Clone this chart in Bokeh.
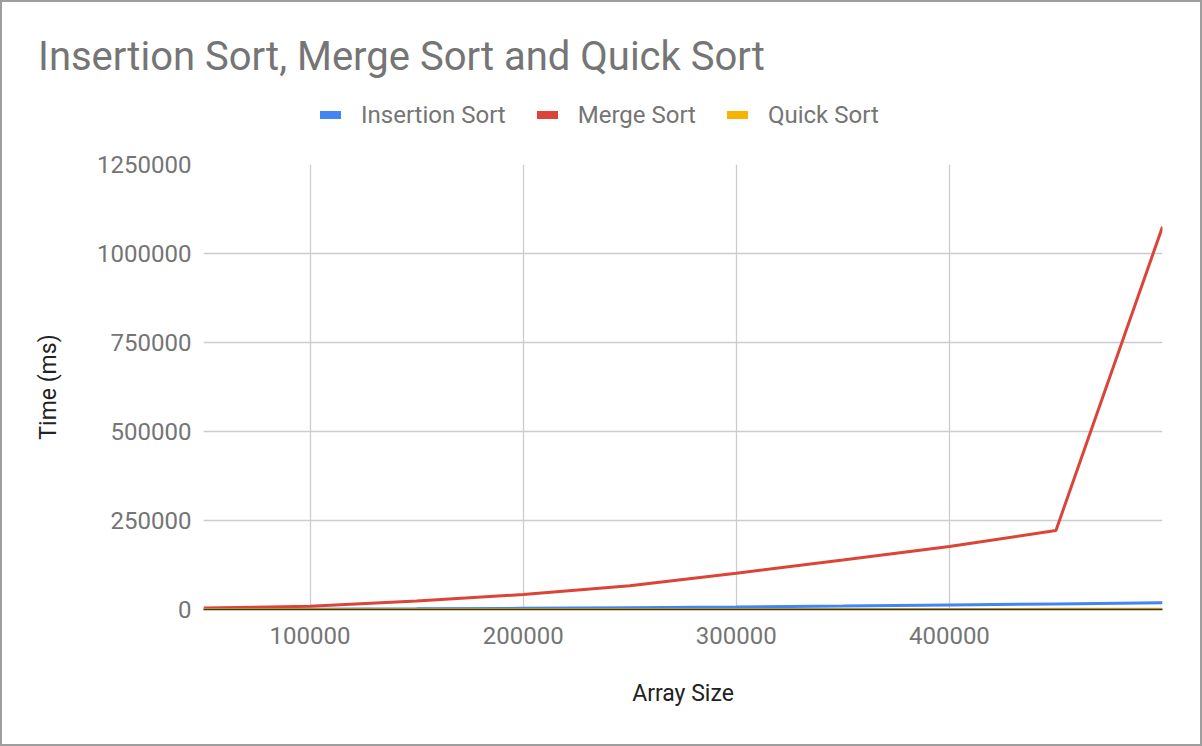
from bokeh.plotting import figure
from bokeh.layouts import column
from bokeh.models import FixedTicker, BasicTickFormatter, Range1d, Div
from bokeh.embed import file_html
from bokeh.resources import INLINE

# ---- data ----
array_sizes = [50000, 100000, 150000, 200000, 250000, 300000, 350000, 400000, 450000, 500000]
insertion_sort = [200, 800, 1900, 3300, 5200, 7300, 9900, 12800, 15800, 19000]
merge_sort = [4000, 9000, 24000, 42000, 67000, 102000, 139000, 177000, 222000, 1075000]
quick_sort = [30, 60, 100, 140, 180, 230, 270, 320, 360, 410]

series_names = ["Insertion Sort", "Merge Sort", "Quick Sort"]
series_colors = ["#4285F4", "#DB4437", "#F4B400"]
x_ticks = [100000, 200000, 300000, 400000]
x_grid_ticks = [100000, 200000, 300000, 400000, 500000]
y_ticks = [0, 250000, 500000, 750000, 1000000, 1250000]

title_text = "Insertion Sort, Merge Sort and Quick Sort"
x_label = "Array Size"
y_label = "Time (ms)"

FONT = "Roboto"
GRAY = "#757575"
DARK = "#222222"

# ---- header: title + legend ----
legend_html = ""
for i, (name, color) in enumerate(zip(series_names, series_colors)):
    ml = "0" if i == 0 else "31px"
    legend_html += (
        f'<span style="display:inline-block;width:21px;height:8px;background:{color};'
        f'margin-left:{ml};margin-right:20px"></span><span>{name}</span>'
    )

header_html = (
    f'<div style="position:relative;width:1198px;height:144px;font-family:{FONT};'
    f'color:{GRAY};background:white;overflow:hidden">'
    f'<div style="position:absolute;left:36px;top:35px;font-size:40px;line-height:40px;'
    f'white-space:nowrap">{title_text}</div>'
    f'<div style="position:absolute;left:318px;top:101px;font-size:24px;line-height:24px;'
    f'white-space:nowrap;display:flex;align-items:center">{legend_html}</div>'
    f'</div>'
)
head = Div(text=header_html, width=1198, height=144, margin=0)

# ---- main chart ----
p = figure(width=1198, height=598, output_backend="svg", toolbar_location=None,
           x_range=Range1d(50000, 500000), y_range=Range1d(0, 1250000),
           min_border_left=201, min_border_right=38, min_border_top=18, min_border_bottom=135,
           margin=0)
p.outline_line_color = None
p.background_fill_color = "white"
p.border_fill_color = "white"

p.xgrid.ticker = FixedTicker(ticks=x_grid_ticks)
p.ygrid.ticker = FixedTicker(ticks=y_ticks)
for g in (p.xgrid, p.ygrid):
    g.grid_line_color = "#cccccc"
    g.grid_line_width = 1.3

xa = p.xaxis[0]
xa.ticker = FixedTicker(ticks=x_ticks)
xa.formatter = BasicTickFormatter(use_scientific=False)
xa.axis_line_color = "#333333"
xa.axis_line_width = 1.5
xa.major_tick_line_color = None
xa.minor_tick_line_color = None
xa.major_label_text_font = FONT
xa.major_label_text_font_size = "24px"
xa.major_label_text_color = GRAY
xa.major_label_standoff = 11
xa.axis_label = x_label
xa.axis_label_text_font = FONT
xa.axis_label_text_font_size = "23px"
xa.axis_label_text_font_style = "normal"
xa.axis_label_text_color = DARK
xa.axis_label_standoff = 33

ya = p.yaxis[0]
ya.ticker = FixedTicker(ticks=y_ticks)
ya.formatter = BasicTickFormatter(use_scientific=False)
ya.axis_line_color = None
ya.major_tick_line_color = None
ya.minor_tick_line_color = None
ya.major_label_text_font = FONT
ya.major_label_text_font_size = "24px"
ya.major_label_text_color = GRAY
ya.major_label_standoff = 6
ya.axis_label = y_label
ya.axis_label_text_font = FONT
ya.axis_label_text_font_size = "23px"
ya.axis_label_text_font_style = "normal"
ya.axis_label_text_color = DARK
ya.axis_label_standoff = 32

all_series = [insertion_sort, merge_sort, quick_sort]
for name, color, vals in zip(series_names, series_colors, all_series):
    p.line(array_sizes, vals, line_color=color, line_width=3)

layout = column(head, p, spacing=0)
layout.styles = {"border": "2px solid #9e9e9e"}

open("out.html", "w").write(file_html(layout, INLINE))
